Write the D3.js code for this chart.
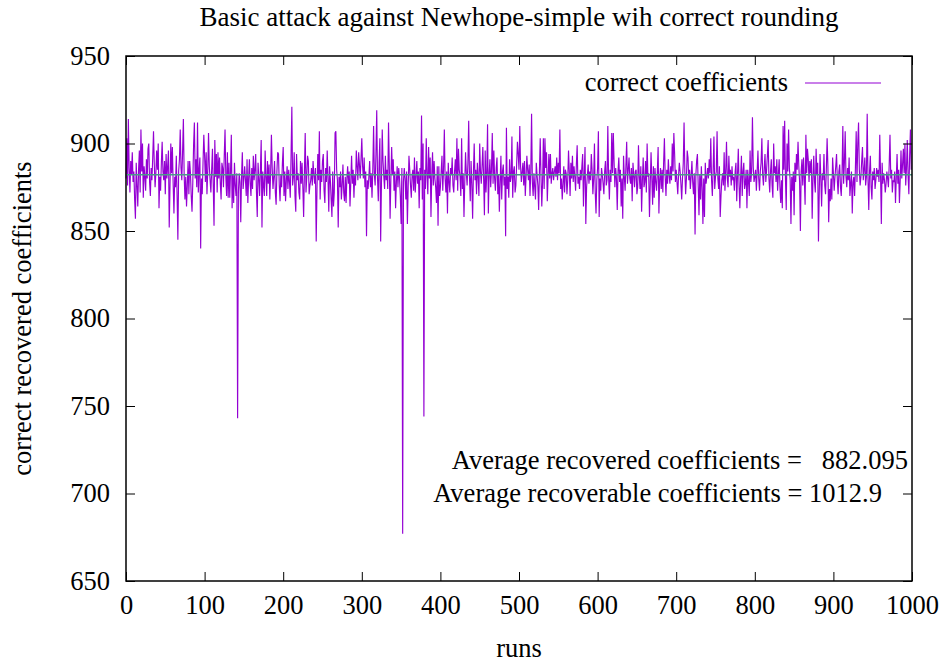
<!DOCTYPE html>
<html>
<head>
<meta charset="utf-8">
<script src="https://cdnjs.cloudflare.com/ajax/libs/d3/7.8.5/d3.min.js"></script>
<style>
  body { margin: 0; background: #fff; }
  text { font-family: "Liberation Serif", "Times New Roman", serif; }
</style>
</head>
<body>
<div id="chart"></div>
<script>
// correct recovered coefficients per run (runs 0..999)
var runs0to99 = [880,903,876,914,886,872,890,882,895,878,884,868,857,889,876,864,885,896,872,908,884,900,869,887,881,873,891,880,897,900,878,870,886,879,892,907,888,875,883,896,885,900,863,881,873,889,901,884,879,890,871,894,880,887,896,852,876,900,883,898,877,860,881,875,893,870,845,884,891,908,886,879,895,914,882,868,881,864,876,890,871,890,883,870,861,878,899,912,880,891,875,912,872,885,892,840,880,871,889,905];
var runs100to199 = [893,878,895,871,884,906,887,879,872,885,897,876,853,902,881,894,872,895,880,892,877,868,889,886,875,893,908,881,870,895,869,889,869,884,905,863,882,866,889,876,870,883,743,872,883,878,855,881,895,874,880,887,879,870,891,866,880,891,877,870,886,874,893,879,885,894,872,858,889,880,870,885,902,852,884,876,870,896,881,870,890,877,888,868,883,905,886,874,881,890,872,865,884,895,894,876,867,882,875,889];
var runs200to299 = [898,870,884,867,879,887,874,885,878,869,893,921,876,881,895,870,861,894,879,883,872,868,890,877,889,875,858,884,906,872,881,893,890,871,876,879,886,876,890,882,877,886,844,874,894,879,907,868,885,878,890,894,873,866,886,878,896,880,861,887,879,868,858,884,864,872,906,907,885,879,852,881,875,884,868,876,888,872,867,881,866,880,887,877,884,864,878,893,877,885,869,882,876,896,887,879,895,888,880,891];
var runs300to399 = [903,887,880,892,875,884,847,879,874,881,890,875,883,869,885,910,882,876,894,919,880,867,889,903,844,877,908,890,881,874,893,879,885,874,912,887,857,880,898,882,891,873,884,863,878,887,875,886,880,870,854,886,677,878,886,880,868,884,854,875,893,885,876,869,882,885,873,892,872,881,890,877,884,863,886,879,916,868,900,744,885,874,903,882,871,898,880,892,858,882,895,876,890,880,875,866,887,853,887,870];
var runs400to499 = [875,884,893,873,885,908,880,872,884,860,889,878,872,886,882,892,876,872,884,891,879,903,873,897,885,881,870,903,874,883,858,878,895,883,876,889,913,881,867,890,877,857,883,900,879,885,871,889,881,870,900,884,877,887,898,880,859,896,872,883,911,860,882,891,875,885,906,877,896,880,873,886,892,871,882,861,878,893,868,884,888,876,881,847,909,874,881,869,891,878,881,904,869,884,887,872,876,888,901,894];
var runs500to599 = [885,910,887,878,884,889,876,890,870,881,893,885,879,888,870,884,917,878,870,883,875,868,889,882,876,862,884,903,881,864,878,903,874,903,886,895,867,881,894,880,894,877,883,886,879,884,887,881,892,879,889,883,908,874,880,868,877,887,872,885,883,871,879,896,884,870,889,880,893,878,887,881,873,888,899,877,881,874,885,879,887,894,864,882,898,854,875,882,888,877,884,879,894,885,871,880,900,872,860,879];
var runs600to699 = [886,907,858,880,873,886,882,877,871,884,890,876,879,910,881,868,885,878,906,883,906,889,875,886,880,862,884,892,878,885,864,880,857,893,881,873,887,901,877,885,892,880,877,886,867,889,882,875,884,885,871,875,899,881,874,887,861,879,892,875,878,890,872,900,881,883,858,877,895,880,865,887,869,886,878,873,884,898,860,879,886,874,885,872,889,903,881,870,885,877,891,882,877,887,879,900,884,906,894,878];
var runs700to799 = [885,878,871,882,889,884,877,868,880,889,912,884,871,880,896,892,879,885,874,881,890,878,871,883,848,882,890,894,876,859,882,868,887,875,854,880,858,889,877,881,886,880,891,883,903,879,870,885,904,874,881,884,907,880,874,887,858,870,879,883,876,895,873,884,901,880,875,893,881,885,876,887,879,881,873,884,889,867,882,897,876,863,881,893,870,884,889,874,877,885,863,885,878,870,896,878,884,915,887,878];
var runs800to899 = [881,885,873,884,896,880,873,884,889,903,882,876,886,894,878,885,893,902,880,872,884,891,876,869,900,883,887,878,891,873,882,891,875,866,879,863,910,885,913,880,862,900,884,908,886,879,854,881,873,884,859,889,878,894,885,901,887,878,850,884,891,876,892,880,865,905,883,897,891,878,890,883,891,857,880,893,878,872,897,882,889,844,872,894,880,864,883,879,894,876,871,885,903,887,855,874,867,880,868,892];
var runs900to999 = [883,873,881,887,894,879,871,884,888,875,870,883,910,877,889,907,881,875,886,879,892,870,877,884,860,878,881,870,886,907,878,900,912,885,876,881,890,898,879,885,892,876,881,917,880,862,884,893,875,868,884,879,886,874,879,886,881,885,878,905,882,854,889,877,883,879,872,877,884,880,875,888,905,880,885,872,879,878,884,866,880,894,877,885,866,879,896,880,888,897,883,900,876,886,902,882,871,893,908,885];

var xTicks = [0, 100, 200, 300, 400, 500, 600, 700, 800, 900, 1000];
var yTicks = [650, 700, 750, 800, 850, 900, 950];
var avgRecovered = 882.095;
var avgRecoverable = 1012.9;

var title = "Basic attack against Newhope-simple wih correct rounding";
var xLabel = "runs";
var yLabel = "correct recovered coefficients";
var seriesName = "correct coefficients";

(function() {
  var W = 949, H = 662;
  var margin = { top: 56, left: 126, right: 37, bottom: 81 },
      width = W - margin.left - margin.right,
      height = H - margin.top - margin.bottom;

  var fontSize = "26.5px";

  var svg = d3.select("#chart")
    .append("svg")
    .attr("width", W)
    .attr("height", H)
    .style("display", "block");

  var g = svg.append("g")
    .attr("transform", "translate(" + margin.left + "," + margin.top + ")");

  var values = [].concat(runs0to99, runs100to199, runs200to299, runs300to399, runs400to499,
    runs500to599, runs600to699, runs700to799, runs800to899, runs900to999);
  var datapoints = values.map(function(v, i) { return { run: i, value: v }; });

  var xPositionScale = d3.scaleLinear().domain([0, 1000]).range([0, width]);
  var yPositionScale = d3.scaleLinear().domain([650, 950]).range([height, 0]);

  // data line
  var line = d3.line()
    .x(function(d) { return xPositionScale(d.run); })
    .y(function(d) { return yPositionScale(d.value); });

  g.append("path")
    .datum(datapoints)
    .attr("d", line)
    .attr("fill", "none")
    .attr("stroke", "#9400d3")
    .attr("stroke-width", 1.15);

  // average line
  g.append("line")
    .attr("x1", 0)
    .attr("x2", width)
    .attr("y1", yPositionScale(avgRecovered))
    .attr("y2", yPositionScale(avgRecovered))
    .attr("stroke", "#4a9a8a")
    .attr("stroke-width", 1.5);

  // axes, ticks pointing inward, mirrored on top and right
  var tick = 9;
  function styleAxis(sel) {
    sel.select(".domain").remove();
    sel.attr("font-family", null).attr("font-size", null);
    sel.selectAll("text").style("font-size", fontSize).attr("fill", "#000");
    sel.selectAll("line").attr("stroke", "#000").attr("stroke-width", 1);
  }

  g.append("g")
    .attr("transform", "translate(0," + height + ")")
    .call(d3.axisBottom(xPositionScale).tickValues(xTicks).tickFormat(d3.format("d"))
      .tickSizeInner(-tick).tickSizeOuter(0).tickPadding(14))
    .call(styleAxis);
  g.append("g")
    .call(d3.axisTop(xPositionScale).tickValues(xTicks).tickSizeInner(-tick).tickSizeOuter(0).tickFormat(""))
    .call(styleAxis);
  g.append("g")
    .call(d3.axisLeft(yPositionScale).tickValues(yTicks).tickFormat(d3.format("d"))
      .tickSizeInner(-tick).tickSizeOuter(0).tickPadding(16))
    .call(styleAxis);
  g.append("g")
    .attr("transform", "translate(" + width + ",0)")
    .call(d3.axisRight(yPositionScale).tickValues(yTicks).tickSizeInner(-tick).tickSizeOuter(0).tickFormat(""))
    .call(styleAxis);

  // frame
  g.append("rect")
    .attr("width", width)
    .attr("height", height)
    .attr("fill", "none")
    .attr("stroke", "#000")
    .attr("stroke-width", 1.5);

  // title and axis labels
  svg.append("text")
    .attr("x", margin.left + width / 2)
    .attr("y", 26)
    .attr("text-anchor", "middle")
    .style("font-size", "27px")
    .text(title);

  svg.append("text")
    .attr("x", margin.left + width / 2)
    .attr("y", 657)
    .attr("text-anchor", "middle")
    .style("font-size", fontSize)
    .text(xLabel);

  svg.append("text")
    .attr("transform", "translate(31," + (margin.top + height / 2) + ") rotate(-90)")
    .attr("text-anchor", "middle")
    .style("font-size", fontSize)
    .text(yLabel);

  // legend
  g.append("text")
    .attr("x", 662)
    .attr("y", 35)
    .attr("text-anchor", "end")
    .style("font-size", fontSize)
    .text(seriesName);
  g.append("line")
    .attr("x1", 679)
    .attr("x2", 755)
    .attr("y1", 27)
    .attr("y2", 27)
    .attr("stroke", "#9400d3")
    .attr("stroke-width", 1.15);

  // averages
  g.append("text")
    .attr("x", width - 4)
    .attr("y", 413)
    .attr("text-anchor", "end")
    .attr("xml:space", "preserve")
    .style("white-space", "pre")
    .style("font-size", fontSize)
    .text("Average recovered coefficients =   " + avgRecovered);
  g.append("text")
    .attr("x", width - 30)
    .attr("y", 446)
    .attr("text-anchor", "end")
    .style("font-size", fontSize)
    .text("Average recoverable coefficients = " + avgRecoverable);
})();
</script>
</body>
</html>
